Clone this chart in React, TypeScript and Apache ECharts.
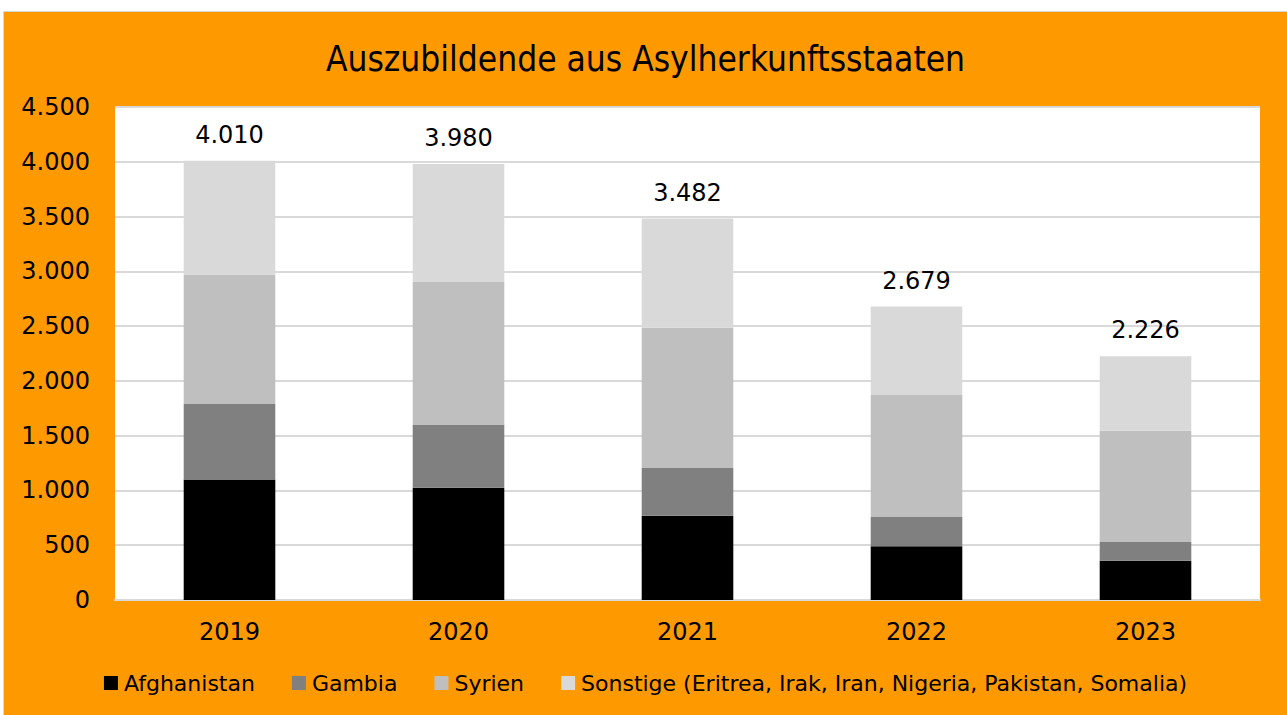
import React, { useEffect, useRef } from "react";
import * as echarts from "echarts";

const years = ["2019", "2020", "2021", "2022", "2023"];
const afghanistan = [1100, 1025, 770, 490, 359];
const gambia = [690, 578, 435, 268, 170];
const syrien = [1180, 1299, 1281, 1113, 1016];
const sonstige = [1040, 1078, 996, 808, 681];
const totals = [4010, 3980, 3482, 2679, 2226];
const seriesNames = [
  "Afghanistan",
  "Gambia",
  "Syrien",
  "Sonstige (Eritrea, Irak, Iran, Nigeria, Pakistan, Somalia)",
];
const yTicks = { min: 0, max: 4500, interval: 500 };

const fmt = (v: number) => String(v).replace(/\B(?=(\d{3})+(?!\d))/g, ".");

const FONT = "'DejaVu Sans', Verdana, sans-serif";

export default function App() {
  const ref = useRef<HTMLDivElement>(null);
  useEffect(() => {
    if (!ref.current) return;
    const chart = echarts.init(ref.current, undefined, { renderer: "svg" });
    const colors = ["#000000", "#808080", "#bfbfbf", "#d9d9d9"];
    const dataSets = [afghanistan, gambia, syrien, sonstige];
    chart.setOption({
      animation: false,
      backgroundColor: "#ff9900",
      textStyle: { fontFamily: FONT },
      title: {
        text: "Auszubildende aus Asylherkunftsstaaten",
        left: "center",
        top: 24,
        textStyle: {
          fontFamily: "'DejaVu Sans Condensed', 'Liberation Sans Narrow', Arial, sans-serif",
          fontSize: 35,
          fontWeight: "normal",
          color: "#000",
        },
      },
      legend: {
        bottom: 16,
        left: "center",
        itemWidth: 14,
        itemHeight: 14,
        itemGap: 37,
        icon: "rect",
        textStyle: { fontFamily: FONT, fontSize: 22, color: "#000", padding: [0, 0, 0, 1] },
        data: seriesNames,
      },
      grid: {
        left: 111,
        right: 27,
        top: 95,
        bottom: 115,
        containLabel: false,
        show: true,
        backgroundColor: "#ffffff",
        borderWidth: 0,
      },
      xAxis: {
        type: "category",
        data: years,
        axisLine: { show: true, lineStyle: { color: "#d9d9d9", width: 2 } },
        axisTick: { show: false },
        axisLabel: { fontFamily: FONT, fontSize: 24, color: "#000", margin: 20 },
      },
      yAxis: {
        type: "value",
        min: yTicks.min,
        max: yTicks.max,
        interval: yTicks.interval,
        axisLine: { show: false },
        axisTick: { show: false },
        splitLine: { lineStyle: { color: "#d9d9d9", width: 2 } },
        axisLabel: {
          fontFamily: FONT,
          fontSize: 24,
          color: "#000",
          margin: 25,
          formatter: (v: number) => fmt(v),
        },
      },
      series: dataSets.map((d, i) => ({
        name: seriesNames[i],
        type: "bar",
        stack: "total",
        barWidth: "40%",
        data: d,
        itemStyle: { color: colors[i] },
        label:
          i === 3
            ? {
                show: true,
                position: "top",
                distance: 14,
                fontFamily: FONT,
                fontSize: 24,
                color: "#000",
                formatter: (p: any) => fmt(totals[p.dataIndex]),
              }
            : { show: false },
      })),
    });
    return () => chart.dispose();
  }, []);
  return (
    <div style={{ position: "fixed", left: 0, top: 0, width: 1287, height: 715, background: "#fff" }}>
      <div
        ref={ref}
        style={{
          position: "absolute",
          left: 3,
          top: 11,
          width: 1283,
          height: 703,
          borderLeft: "1px solid #d9d9d9",
          borderTop: "1px solid #d9d9d9",
        }}
      />
    </div>
  );
}
